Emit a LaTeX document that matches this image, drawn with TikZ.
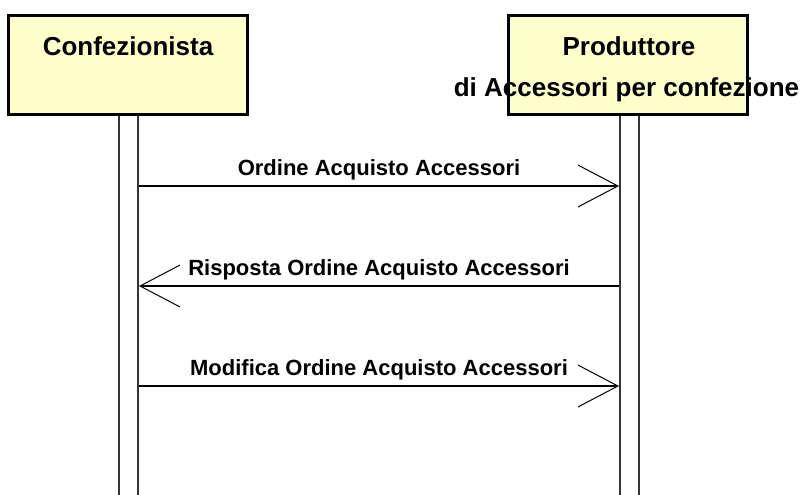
\documentclass[tikz,border=0pt]{standalone}
\usepackage{fontspec}
\setmainfont{Liberation Sans}
\usetikzlibrary{arrows.meta}
\definecolor{actorfill}{HTML}{FFFFCC}
\definecolor{lifegray}{HTML}{333333}
\begin{document}
\begin{tikzpicture}[x=0.75pt,y=-0.75pt,
  actorbox/.style={draw=black, line width=2.25pt, fill=actorfill,
    minimum width=179.25pt, minimum height=74.25pt, inner sep=0pt},
  actortext/.style={anchor=base, inner sep=0pt, font=\fontsize{19.5pt}{22pt}\selectfont\bfseries},
  lifeline/.style={draw=lifegray, line width=1.5pt, fill=none,
    minimum width=14.25pt, minimum height=292.5pt, inner sep=0pt},
  msg/.style={draw=black, line width=1.1pt,
    -{Straight Barb[length=30pt,width=31.5pt,line width=0.75pt]}},
  msgtext/.style={anchor=base, inner sep=0pt, yshift=8.25pt,
    font=\fontsize{16.5pt}{19pt}\selectfont\bfseries}
]
\useasboundingbox (0,0) rectangle (806,494);
% lifelines
\node[lifeline] (lifeL) at (128.5,305) {};
\node[lifeline] (lifeR) at (629.5,305) {};
% actor boxes
\node[actorbox] (boxL) at (128,65) {};
\node[actorbox] (boxR) at (627.5,65) {};
\node[actortext] (nameL) at (128,55) {Confezionista};
\node[actortext] (nameR1) at (629,55) {Produttore};
\node[actortext] (nameR2) at (626.5,96) {di Accessori per confezione};
% message rows
\coordinate (y1) at (0,186);
\coordinate (y2) at (0,286);
\coordinate (y3) at (0,386);
\draw[msg] (lifeL.east |- y1) -- (lifeR.west |- y1)
  node[msgtext, pos=0.5] (m1) {Ordine Acquisto Accessori};
\draw[msg] (lifeR.west |- y2) -- (lifeL.east |- y2)
  node[msgtext, pos=0.5] (m2) {Risposta Ordine Acquisto Accessori};
\draw[msg] (lifeL.east |- y3) -- (lifeR.west |- y3)
  node[msgtext, pos=0.5] (m3) {Modifica Ordine Acquisto Accessori};
\end{tikzpicture}
\end{document}
